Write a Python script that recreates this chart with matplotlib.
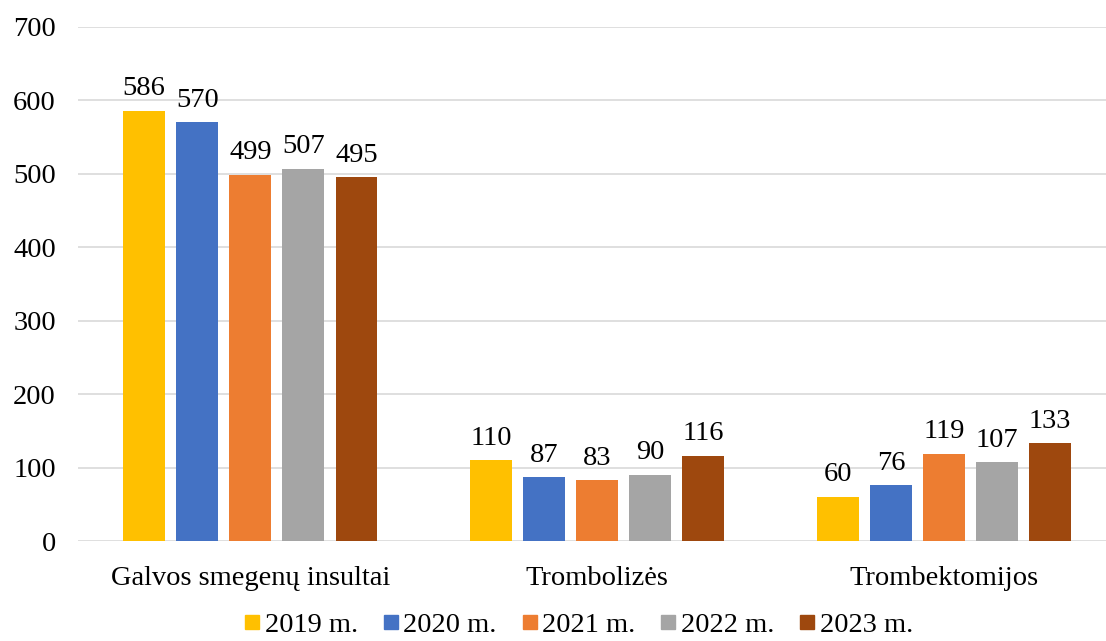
import numpy as np
import matplotlib.pyplot as plt
from matplotlib.lines import Line2D

plt.rcParams['font.family'] = ['Liberation Serif', 'DejaVu Serif']

categories = ['Galvos smegenų insultai', 'Trombolizės', 'Trombektomijos']
years = ['2019 m.', '2020 m.', '2021 m.', '2022 m.', '2023 m.']
v2019 = [586, 110, 60]
v2020 = [570, 87, 76]
v2021 = [499, 83, 119]
v2022 = [507, 90, 107]
v2023 = [495, 116, 133]
series = [v2019, v2020, v2021, v2022, v2023]
colors = ['#FFC000', '#4472C4', '#ED7D31', '#A5A5A5', '#9E480E']

fs = 20.5

fig = plt.figure(figsize=(11.06, 6.41), dpi=100)
ax = fig.add_axes([0.0705, 0.156, 0.9295, 0.802])

x = np.arange(len(categories))
pitch = 0.153
width = 0.121
for i, (vals, c) in enumerate(zip(series, colors)):
    pos = x + (i - 2) * pitch
    ax.bar(pos, vals, width, color=c, zorder=3)
    for p, v in zip(pos, vals):
        ax.text(p, v + 13, str(v), ha='center', va='bottom', fontsize=fs)

ax.set_ylim(0, 700)
ax.set_xlim(-0.497, 2.467)
ax.set_yticks(range(0, 701, 100))
ax.yaxis.grid(True, color='#D9D9D9', lw=1.2, zorder=0)
ax.set_xticks(x)
ax.set_xticklabels(categories, fontsize=fs)
ax.tick_params(axis='y', labelsize=fs, length=0, pad=16)
ax.tick_params(axis='x', length=0, pad=18)
for s in ['top', 'right', 'left', 'bottom']:
    ax.spines[s].set_visible(False)

handles = [Line2D([], [], marker='s', ls='', color=c, markersize=10) for c in colors]
fig.legend(handles, years, loc='lower center', bbox_to_anchor=(0.521, -0.036), ncol=5,
           frameon=False, fontsize=fs, handletextpad=0.0, columnspacing=0.7,
           handlelength=0.9)

fig.savefig('out.png', dpi=100)
